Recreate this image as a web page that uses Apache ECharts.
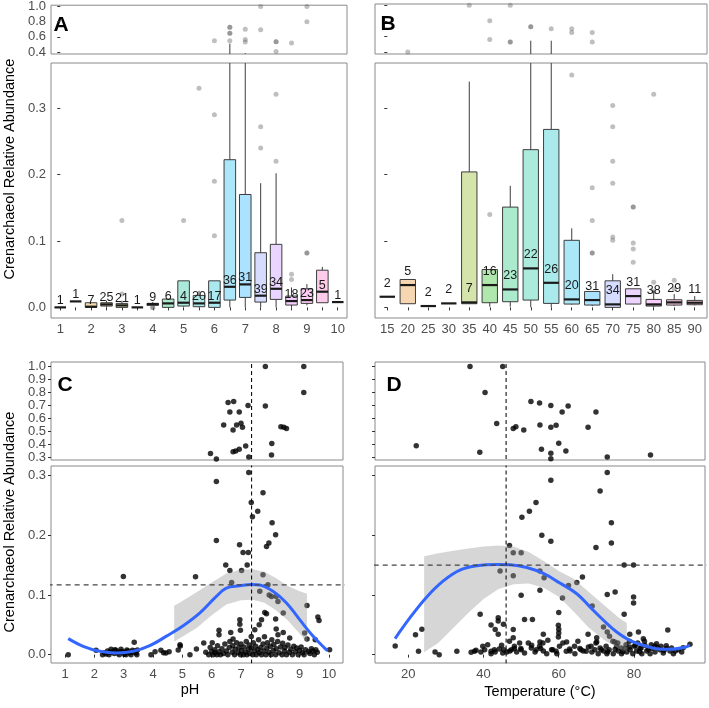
<!DOCTYPE html>
<html><head><meta charset="utf-8">
<script src="https://cdn.jsdelivr.net/npm/echarts@6/dist/echarts.min.js"></script>
<style>html,body{margin:0;padding:0;background:#fff}#c{width:709px;height:708px}</style>
</head><body><div id="c"></div>
<script>
// ---------- Panel A: pH boxplots ----------
const catsA = ['1','1.5','2','2.5','3','3.5','4','4.5','5','5.5','6','6.5','7','7.5','8','8.5','9','9.5','10'];
const nA   = [1,1,7,25,21,1,9,6,4,20,17,36,31,39,34,18,23,5,1];
const minA = [0,0.009,0,0,0,0,0.002,0,0.001,0,0,0,0,0,0,0,0.003,0.007,0.008];
const q1A  = [0,0.009,0,0.002,0,0,0.003,0,0.002,0.001,0,0.011,0.015,0.008,0.012,0.0035,0.006,0.007,0.008];
const medA = [0,0.009,0.001,0.0045,0.003,0,0.005,0.006,0.007,0.006,0.007,0.031,0.0346,0.0176,0.028,0.0095,0.011,0.0236,0.008];
const q3A  = [0,0.009,0.007,0.007,0.006,0,0.006,0.0125,0.040,0.018,0.040,0.2224,0.170,0.0823,0.0949,0.017,0.028,0.056,0.008];
const maxA = [0,0.009,0.007,0.01,0.01,0,0.008,0.0125,0.040,0.025,0.040,0.51,0.385,0.187,0.202,0.03,0.035,0.061,0.008];
const outA = [[4,0.131],[4,0.02],[6,0],[6,0],[8,0.131],[9,0.33],[10,0.108],[10,0.19],[10,0.29],[10,0.549],
  [11,0.549],[11,0.647],[11,0.647],[11,0.728],[11,0.728],[12,0.70],[12,0.566],[12,0.532],[13,0.24],[13,0.272],
  [13,1.0],[13,0.694],[14,0.22],[14,0.321],[14,0.536],[14,0.536],[14,0.408],[15,0.042],[15,0.05],[15,0.519],
  [16,0.082],[16,0.082],[16,1.0],[16,0.80]];

// ---------- Panel B: temperature boxplots ----------
const catsB = ['15','20','25','30','35','40','45','50','55','60','65','70','75','80','85','90'];
const nB   = [2,5,2,2,7,16,23,22,26,20,31,34,31,38,29,11];
const minB = [0.016,0.0055,0.002,0.006,0.005,0.001,0.001,0,0,0.004,0.002,0,0.005,0,0.002,0.003];
const q1B  = [0.016,0.0055,0.002,0.006,0.0055,0.007,0.0085,0.011,0.006,0.005,0.0035,0,0.005,0.002,0.0035,0.004];
const medB = [0.016,0.0336,0.002,0.006,0.0075,0.0336,0.027,0.0587,0.037,0.012,0.011,0.0045,0.017,0.0045,0.0075,0.007];
const q3B  = [0.016,0.042,0.002,0.006,0.204,0.057,0.151,0.2375,0.268,0.101,0.024,0.040,0.028,0.012,0.0115,0.0105];
const maxB = [0.016,0.042,0.002,0.006,0.340,0.057,0.183,0.545,0.545,0.119,0.024,0.050,0.028,0.025,0.02,0.017];
const outB = [[1,0.40],[4,1.0],[5,0.14],[5,0.80],[5,0.562],[6,1.0],[6,0.528],[6,0.528],[7,0.723],[7,0.723],
  [8,0.698],[9,0.35],[9,0.698],[9,0.651],[10,0.082],[10,0.082],[10,0.131],[10,0.18],[10,0.651],[10,0.528],
  [11,0.101],[11,0.106],[11,0.187],[11,0.22],[11,0.272],[11,0.304],[12,0.068],[12,0.088],[12,0.097],[12,0.151],
  [12,0.151],[13,0.038],[13,0.024],[13,0.321],[14,0.041],[14,0.028]];

// ---------- Panel C: pH scatter ----------
const cPoints = [
 [7.83,1.0],[9.14,1.0],[9.14,0.80],[7.83,0.697],[6.56,0.723],[6.75,0.73],[7.24,0.70],[6.62,0.651],[6.94,0.651],
 [6.41,0.551],[6.85,0.551],[7.0,0.564],[7.05,0.533],[6.73,0.513],[8.36,0.538],[8.46,0.533],[8.55,0.523],[8.05,0.408],
 [8.04,0.32],[7.16,0.39],[6.94,0.364],[6.73,0.346],[6.82,0.352],[5.96,0.331],
 [7.265,0.305],[6.16,0.29],[7.75,0.271],[7.35,0.255],[7.57,0.240],[7.39,0.231],[8.06,0.221],[8.18,0.201],[6.16,0.191],
 [6.95,0.184],[7.95,0.187],[7.87,0.181],[7.07,0.171],[7.25,0.171],
 [2.99,0.131],[5.45,0.1305],[6.48,0.150],[7.21,0.150],[6.62,0.141],[7.02,0.141],[7.75,0.134],[6.68,0.121],[7.92,0.117],
 [7.64,0.106],[7.96,0.100],[8.04,0.0975],[8.2,0.0975],[8.26,0.089],[9.25,0.0825],[7.81,0.0708],[7.87,0.0686],[8.44,0.0697],
 [9.62,0.063],[9.66,0.057],[6.96,0.0585],[6.96,0.051],[7.70,0.0585],[7.62,0.0502],[8.18,0.0597],[6.25,0.0407],[6.25,0.0334],
 [6.98,0.0407],[7.47,0.0418],[7.35,0.0306],[8.2,0.043],[8.26,0.0334],[8.44,0.0373],[6.65,0.0373],[6.73,0.0262],[8.66,0.0279],
 [9.17,0.0362],[9.25,0.0262],[9.53,0.0251],[10.02,0.0084],
 [1.11,0.0],[2.06,0.0072],[2.28,0.0],[2.4,0.001],[2.57,0.0089],[2.62,0.0045],[2.74,0.0072],[2.79,0.0028],[2.91,0.0089],
 [2.96,0.005],[3.02,0.0006],[3.11,0.0078],[3.19,0.0033],[3.3,0.0072],[3.36,0.0206],[3.42,0.0028],[3.47,0.0078],
 [2.35,0.003],[2.45,0.006],[2.5,0.0],[2.55,0.004],[2.68,0.002],[2.7,0.008],[2.85,0.0],[2.88,0.005],[3.05,0.004],
 [3.08,0.0],[3.15,0.006],[3.25,0.0],[3.28,0.004],[3.38,0.006],[3.45,0.0],
 [3.93,0.0],[4.07,0.005],[4.27,0.0072],[4.36,0.0033],[4.44,0.0028],[4.55,0.005],[4.86,0.0078],[4.93,0.0145],[4.92,0.0167],
 [5.26,0.0],[5.48,0.0095],[5.73,0.0195],
 [5.8,0.004],[5.9,0.0],[5.95,0.012],[6.0,0.005],[6.02,0.02],[6.05,0.0],[6.1,0.008],[6.12,0.003],[6.18,0.0],[6.2,0.015],
 [6.25,0.005],[6.3,0.0],[6.35,0.01],[6.4,0.002],[6.45,0.018],[6.5,0.006],[6.55,0.0],[6.6,0.012],[6.62,0.022],[6.7,0.004],
 [6.72,0.015],[6.78,0.0],[6.8,0.009],[6.85,0.02],[6.9,0.003],[6.93,0.012],[6.98,0.0],[7.0,0.018],[7.02,0.007],[7.08,0.0],
 [7.1,0.013],[7.15,0.004],[7.18,0.022],[7.2,0.0],[7.25,0.009],[7.28,0.016],[7.3,0.002],[7.35,0.011],[7.4,0.0],[7.42,0.02],
 [7.45,0.006],[7.5,0.014],[7.52,0.0],[7.58,0.008],[7.6,0.025],[7.62,0.003],[7.68,0.012],[7.7,0.0],[7.75,0.018],[7.78,0.006],
 [7.8,0.03],[7.85,0.0],[7.88,0.011],[7.9,0.02],[7.95,0.004],[8.0,0.014],[8.02,0.0],[8.05,0.025],[8.1,0.007],[8.12,0.017],
 [8.18,0.0],[8.2,0.01],[8.25,0.022],[8.3,0.003],[8.35,0.013],[8.4,0.0],[8.42,0.019],[8.48,0.006],[8.5,0.012],[8.55,0.0],
 [8.6,0.016],[8.65,0.004],[8.7,0.009],[8.75,0.0],[8.8,0.014],[8.85,0.005],[8.9,0.011],[8.95,0.0],[9.0,0.007],[9.05,0.013],
 [9.1,0.003],[9.15,0.0],[9.2,0.008],[9.3,0.005],[9.35,0.002],[9.4,0.01],[9.45,0.006],[9.5,0.0],[9.55,0.008],[9.6,0.004]
];
const cFitX = [1.11,1.62,2.19,2.76,3.33,3.89,4.46,5.03,5.6,6.16,6.5,6.96,7.36,7.64,8.09,8.55,9.0,9.46,9.85,9.95];
const cFitY = [0.0268,0.014,0.0056,0.0028,0.0056,0.015,0.031,0.0485,0.07,0.0976,0.1115,0.1154,0.1177,0.1166,0.106,0.0864,0.0586,0.0307,0.0110,0.0070];
const cBandX  = [4.72,5.0,5.5,6.0,6.5,7.0,7.4,7.8,8.2,8.6,9.0,9.25];
const cBandHi = [0.082,0.090,0.105,0.121,0.136,0.142,0.143,0.139,0.128,0.115,0.106,0.102];
const cBandLo = [0.022,0.030,0.045,0.066,0.084,0.091,0.092,0.087,0.074,0.057,0.035,0.020];
const cOptX = 7.36, cOptY = 0.117;

// ---------- Panel D: temperature scatter ----------
const dPoints = [
 [36.4,1.0],[45.1,1.0],[40.4,0.80],[52.6,0.731],[54.9,0.72],[57.9,0.70],[60.9,0.651],[62.5,0.697],[69.9,0.651],
 [43.5,0.562],[47.9,0.523],[48.6,0.538],[50.7,0.513],[55.0,0.551],[57.9,0.533],[59.3,0.549],[67.8,0.533],[22.1,0.392],
 [39.0,0.341],[55.4,0.364],[57.9,0.333],[60.0,0.41],[61.9,0.351],[57.9,0.292],[72.9,0.305],[84.4,0.32],[71.0,0.274],
 [53.95,0.255],[52.2,0.240],[50.2,0.230],[74.0,0.221],[55.5,0.200],[57.9,0.190],[74.0,0.187],[46.9,0.183],[47.9,0.1705],
 [50.0,0.1705],[69.9,0.1794],[77.4,0.150],[79.9,0.150],[44.4,0.140],[47.9,0.132],[55.0,0.140],[56.1,0.129],[55.0,0.108],
 [50.0,0.0995],[62.6,0.116],[64.8,0.121],[66.3,0.130],[61.0,0.095],[68.9,0.0816],[72.9,0.1006],[75.0,0.105],[79.9,0.0967],
 [79.9,0.0866],[77.4,0.0676],[60.0,0.0704],[39.1,0.0676],[43.9,0.062],[43.9,0.0565],[42.0,0.0497],[43.1,0.042],[43.9,0.0341],
 [45.3,0.0509],[50.9,0.0587],[53.0,0.0587],[47.9,0.042],[47.9,0.0285],[55.9,0.0341],[59.9,0.0492],[60.0,0.0425],[60.0,0.0363],
 [59.9,0.0296],[67.8,0.0341],[70.1,0.0285],[71.9,0.0464],[72.9,0.038],[74.9,0.0212],[78.9,0.0341],[81.2,0.038],[82.5,0.0268],
 [89.0,0.0414],[21.9,0.0335],[23.6,0.0425],[16.5,0.0145],[22.7,0.0056],[27.1,0.0045],[28.2,0.0],[32.9,0.0056],[38.0,0.0073],
 [39.3,0.0045],[42.0,0.0017],[43.1,0.0045],[44.8,0.0157],[45.4,0.0084],[46.2,0.0045],[47.0,0.0061],[48.2,0.0101],[48.8,0.0045],
 [49.9,0.0101],[51.9,0.0196],[52.8,0.0157],[53.7,0.0045],[55.0,0.0212],[55.2,0.0101],[55.9,0.0061],[56.8,0.0017],[58.1,0.0084],
 [59.5,0.0017],[62.1,0.0212],[63.0,0.0061],[64.3,0.0017],[65.6,0.0101],[66.5,0.0061],[67.9,0.0128],[68.8,0.0045],[69.6,0.0084],
 [70.1,0.0212],[70.5,0.0017],[71.9,0.0061],[72.8,0.0017],[73.4,0.0084],[74.5,0.0017],[75.4,0.014],[75.8,0.0061],[76.7,0.0017],
 [77.6,0.0101],[78.1,0.0045],[78.9,0.0128],[79.7,0.0017],[80.3,0.0157],[80.7,0.0061],[81.6,0.0101],[82.1,0.0017],[82.9,0.0157],
 [83.4,0.0061],[84.3,0.0017],[84.7,0.0101],[85.6,0.0045],[86.0,0.0184],[86.9,0.0084],[87.8,0.0028],[88.7,0.0101],[89.6,0.0061],
 [90.5,0.0017],[91.8,0.0084],[92.7,0.0045],[93.1,0.0117],[94.9,0.0173],
 [36.7,0.0039],[37.6,0.0056],[39.8,0.0139],[40.3,0.0084],[41.1,0.0167],[42.0,0.0056],[42.9,0.0084],[44.2,0.0095],[45.1,0.0028],
 [46.9,0.0223],[47.4,0.0084],[48.2,0.0139],[49.6,0.0195],[50.0,0.0084],[50.9,0.0028],[52.7,0.0111],[54.0,0.0084],[54.9,0.0139],
 [55.8,0.0195],[57.1,0.0240],[58.4,0.0084],[59.3,0.0056],[60.2,0.0139],[61.1,0.0195],[62.0,0.0056],[62.9,0.0095],[64.2,0.0139],
 [65.1,0.0223],[65.9,0.0084],[67.3,0.0056],[68.6,0.0139],[69.9,0.0195],[71.3,0.0084],[72.6,0.0139],[73.5,0.0307],[74.4,0.0223],
 [75.7,0.0195],[76.6,0.0111],[77.9,0.0167],[78.8,0.0223],[80.2,0.0139],[81.0,0.0195],[81.9,0.0111],[82.8,0.0223],[84.6,0.0167],
 [85.5,0.0139],[87.2,0.0139],[88.6,0.0151],[79.0,0.0080],[81.5,0.0050],[83.8,0.0090],[86.3,0.0120],[88.0,0.0070],[90.0,0.0110],
 [91.0,0.0060],[77.0,0.0050],[75.0,0.0090],[73.0,0.0050],[71.0,0.0110]
];
const dFitX = [16.46,20.45,24.9,29.3,33.7,38.2,43.5,47.0,51.5,55.9,60.3,64.8,68.3,71.9,75.4,78.9,82.5,86.0,89.6,93.1,94.9];
const dFitY = [0.027,0.062,0.0967,0.1235,0.1416,0.1488,0.151,0.1505,0.146,0.136,0.120,0.102,0.080,0.0576,0.038,0.024,0.0157,0.010,0.0089,0.0117,0.0157];
const dBandX  = [24.2,28,32,36,40,44,48,52,56,60,64,68,72,76,78.1];
const dBandHi = [0.165,0.170,0.174,0.178,0.181,0.183,0.181,0.172,0.157,0.140,0.127,0.105,0.083,0.062,0.053];
const dBandLo = [0.004,0.020,0.045,0.070,0.093,0.110,0.118,0.119,0.112,0.097,0.072,0.045,0.025,0.010,0.005];
const dOptX = 46, dOptY = 0.15;

// ---------- tick labels ----------
const topTicksAB = [0.4,0.6,0.8,1.0];
const botTicks = [0,0.1,0.2,0.3];
const topTicksCD = [0.3,0.4,0.5,0.6,0.7,0.8,0.9,1.0];
const pHTicks = [1,2,3,4,5,6,7,8,9,10];
const tempTicks = [20,40,60,80];

// ---------- helpers ----------
function hcl(h, c, l) {
  const hr = h * Math.PI / 180;
  const U = c * Math.cos(hr), V = c * Math.sin(hr);
  const Xn = 95.047, Yn = 100, Zn = 108.883;
  const den = Xn + 15 * Yn + 3 * Zn;
  const un = 4 * Xn / den, vn = 9 * Yn / den;
  const Y = l > 8 ? Yn * Math.pow((l + 16) / 116, 3) : Yn * l / 903.3;
  const u = U / (13 * l) + un, v = V / (13 * l) + vn;
  const X = 9 * Y * u / (4 * v), Z = -X / 3 - 5 * Y + 3 * Y / v;
  const x = X / 100, y = Y / 100, z = Z / 100;
  const lin = [3.2404542*x - 1.5371385*y - 0.4985314*z,
               -0.9692660*x + 1.8760108*y + 0.0415560*z,
               0.0556434*x - 0.2040259*y + 1.0572252*z];
  return lin.map(t => {
    t = t <= 0.0031308 ? 12.92 * t : 1.055 * Math.pow(t, 1/2.4) - 0.055;
    return Math.round(Math.max(0, Math.min(1, t)) * 255);
  });
}
function huePal(n, alpha) {
  const out = [];
  for (let i = 0; i < n; i++) {
    const [r, g, b] = hcl(15 + 360 * i / n, 100, 65);
    out.push(`rgba(${r},${g},${b},${alpha})`);
  }
  return out;
}
const palA = huePal(catsA.length, 0.33);
const palB = huePal(catsB.length, 0.33);

const FONT = 'Liberation Sans, Arial, sans-serif';
const tickColor = '#4d4d4d';
const borderColor = '#8a8a8a';

function boxData(mn, q1, md, q3, mx) {
  return mn.map((_, i) => [i, mn[i], q1[i], md[i], q3[i], mx[i]]);
}
function boxRender(pal) {
  return function (params, api) {
    const i = api.value(0);
    const pMin = api.coord([i, api.value(1)]);
    const pQ1 = api.coord([i, api.value(2)]);
    const pMed = api.coord([i, api.value(3)]);
    const pQ3 = api.coord([i, api.value(4)]);
    const pMax = api.coord([i, api.value(5)]);
    const hw = api.size([0.75, 0])[0] / 2;
    const cx = pMed[0];
    const st = { stroke: '#3d3d3d', lineWidth: 1 };
    const ch = [
      { type: 'line', shape: { x1: cx, y1: pQ3[1], x2: cx, y2: pMax[1] }, style: st },
      { type: 'line', shape: { x1: cx, y1: pQ1[1], x2: cx, y2: pMin[1] }, style: st },
    ];
    if (pQ1[1] - pQ3[1] > 0.5) {
      ch.push({ type: 'rect', shape: { x: cx - hw, y: pQ3[1], width: 2 * hw, height: pQ1[1] - pQ3[1] },
        style: { fill: pal[i], stroke: '#3d3d3d', lineWidth: 1 } });
    }
    ch.push({ type: 'line', shape: { x1: cx - hw, y1: pMed[1], x2: cx + hw, y2: pMed[1] },
      style: { stroke: '#1a1a1a', lineWidth: 2.2 } });
    return { type: 'group', children: ch };
  };
}
function labelRender(counts, off) {
  return function (params, api) {
    const i = api.value(0);
    const p = api.coord([i, api.value(1)]);
    return { type: 'text', x: p[0], y: p[1] - off,
      style: { text: String(counts[i]), align: 'center', verticalAlign: 'bottom',
        fontSize: 12.5, fontFamily: FONT, fill: '#1a1a1a' } };
  };
}
function bandRender(xs, lo, hi) {
  return function (params, api) {
    const pts = [];
    for (let i = 0; i < xs.length; i++) pts.push(api.coord([xs[i], hi[i]]));
    for (let i = xs.length - 1; i >= 0; i--) pts.push(api.coord([xs[i], lo[i]]));
    return { type: 'polygon', shape: { points: pts }, style: { fill: 'rgba(153,153,153,0.4)' } };
  };
}

const grids = [
  { left: 51, top: 4, width: 296, height: 50 },
  { left: 51, top: 63, width: 296, height: 255 },
  { left: 375, top: 4, width: 332, height: 50 },
  { left: 375, top: 63, width: 332, height: 255 },
  { left: 51, top: 362, width: 292, height: 98 },
  { left: 51, top: 466, width: 292, height: 197 },
  { left: 375, top: 362, width: 330, height: 98 },
  { left: 375, top: 466, width: 330, height: 197 },
].map(g => Object.assign({ show: true, borderColor: borderColor, borderWidth: 1, backgroundColor: 'transparent' }, g));

function xAx(gi, min, max, ticks, fmt) {
  const a = { type: 'value', gridIndex: gi, min, max, splitLine: { show: false }, axisLine: { show: false } };
  if (ticks) {
    a.axisTick = { show: true, length: 3, lineStyle: { color: '#333' }, customValues: ticks.all };
    a.axisLabel = { show: true, customValues: ticks.lab, formatter: fmt, color: tickColor, fontSize: 13, fontFamily: FONT, margin: 5 };
  } else {
    a.axisTick = { show: false }; a.axisLabel = { show: false };
  }
  return a;
}
function yAx(gi, min, max, ticks, showLab) {
  return { type: 'value', gridIndex: gi, min, max, splitLine: { show: false }, axisLine: { show: false },
    axisTick: { show: true, length: 3, lineStyle: { color: '#333' }, customValues: ticks },
    axisLabel: { show: showLab, customValues: ticks, formatter: v => v.toFixed(1), color: tickColor, fontSize: 13, fontFamily: FONT, margin: 5 } };
}
const idxA = catsA.map((_, i) => i), idxB = catsB.map((_, i) => i);
const xAxes = [
  xAx(0, -0.6, catsA.length - 0.4),
  xAx(1, -0.6, catsA.length - 0.4, { all: idxA, lab: idxA.filter(i => i % 2 === 0) }, v => catsA[Math.round(v)]),
  xAx(2, -0.6, catsB.length - 0.4),
  xAx(3, -0.6, catsB.length - 0.4, { all: idxB, lab: idxB }, v => catsB[Math.round(v)]),
  xAx(4, 0.523, 10.477),
  xAx(5, 0.523, 10.477, { all: pHTicks, lab: pHTicks }, v => String(v)),
  xAx(6, 11.13, 98.9),
  xAx(7, 11.13, 98.9, { all: tempTicks, lab: tempTicks }, v => String(v)),
];
const yAxes = [
  yAx(0, 0.374, 1.017, topTicksAB, true),
  yAx(1, -0.016, 0.368, botTicks, true),
  yAx(2, 0.374, 1.017, topTicksAB, false),
  yAx(3, -0.016, 0.368, botTicks, false),
  yAx(4, 0.282, 1.034, topTicksCD, true),
  yAx(5, -0.014, 0.316, botTicks, true),
  yAx(6, 0.282, 1.034, topTicksCD, false),
  yAx(7, -0.014, 0.316, botTicks, false),
];

const series = [];
const bxA = boxData(minA, q1A, medA, q3A, maxA);
const bxB = boxData(minB, q1B, medB, q3B, maxB);
[[0, bxA, palA, outA], [1, bxA, palA, outA], [2, bxB, palB, outB], [3, bxB, palB, outB]].forEach(([gi, data, pal, outs]) => {
  series.push({ type: 'scatter', xAxisIndex: gi, yAxisIndex: gi, data: outs, symbolSize: 5,
    itemStyle: { color: 'rgba(96,96,96,0.5)' }, clip: true, silent: true, z: 2 });
  series.push({ type: 'custom', xAxisIndex: gi, yAxisIndex: gi, data: data, renderItem: boxRender(pal),
    clip: true, silent: true, z: 3, dimensions: ['x','a','b','c','d','e'], encode: { x: 0, y: [1,2,3,4,5] } });
});
series.push({ type: 'custom', xAxisIndex: 1, yAxisIndex: 1, data: medA.map((m, i) => [i, m]),
  renderItem: labelRender(nA, 0), silent: true, z: 5, encode: { x: 0, y: 1 } });
series.push({ type: 'custom', xAxisIndex: 3, yAxisIndex: 3, data: medB.map((m, i) => [i, m]),
  renderItem: labelRender(nB, 7), silent: true, z: 5, encode: { x: 0, y: 1 } });

function scatterPanel(gTop, gBot, pts, fitX, fitY, bX, bLo, bHi, ox, oy, xmin, xmax) {
  [gTop, gBot].forEach(gi => {
    series.push({ type: 'scatter', xAxisIndex: gi, yAxisIndex: gi, data: pts, symbolSize: 5.5,
      itemStyle: { color: '#000' }, clip: true, silent: true, z: 2 });
    series.push({ type: 'line', xAxisIndex: gi, yAxisIndex: gi, data: [[ox, -1], [ox, 2]], symbol: 'none',
      lineStyle: { color: '#111', width: 1.1, type: [4, 3] }, clip: true, silent: true, z: 6 });
  });
  series.push({ type: 'custom', xAxisIndex: gBot, yAxisIndex: gBot, data: [[bX[0], bLo[0]]],
    renderItem: bandRender(bX, bLo, bHi), clip: true, silent: true, z: 3, encode: { x: 0, y: 1 } });
  series.push({ type: 'line', xAxisIndex: gBot, yAxisIndex: gBot, data: fitX.map((x, i) => [x, fitY[i]]),
    symbol: 'none', smooth: 0.4, lineStyle: { color: '#3366FF', width: 3 }, clip: true, silent: true, z: 4 });
  series.push({ type: 'line', xAxisIndex: gBot, yAxisIndex: gBot, data: [[xmin - 5, oy], [xmax + 5, oy]], symbol: 'none',
    lineStyle: { color: '#444', width: 1.3, type: [5, 4] }, clip: true, silent: true, z: 6 });
}
scatterPanel(4, 5, cPoints, cFitX, cFitY, cBandX, cBandLo, cBandHi, cOptX, cOptY, 0.5, 10.5);
scatterPanel(6, 7, dPoints, dFitX, dFitY, dBandX, dBandLo, dBandHi, dOptX, dOptY, 11, 99);

const yTitle = 'Crenarchaeol Relative Abundance';
const graphic = [
  { type: 'text', x: 10, y: 169, rotation: Math.PI / 2, style: { text: yTitle, align: 'center', verticalAlign: 'middle', fontSize: 14.5, fontFamily: FONT, fill: '#000' } },
  { type: 'text', x: 10, y: 522, rotation: Math.PI / 2, style: { text: yTitle, align: 'center', verticalAlign: 'middle', fontSize: 14.5, fontFamily: FONT, fill: '#000' } },
  { type: 'text', x: 190, y: 690, style: { text: 'pH', align: 'center', verticalAlign: 'middle', fontSize: 14.5, fontFamily: FONT, fill: '#000' } },
  { type: 'text', x: 540, y: 692, style: { text: 'Temperature (°C)', align: 'center', verticalAlign: 'middle', fontSize: 14.5, fontFamily: FONT, fill: '#000' } },
  { type: 'text', x: 61, y: 25, style: { text: 'A', align: 'center', verticalAlign: 'middle', fontSize: 21, fontWeight: 'bold', fontFamily: FONT, fill: '#000' } },
  { type: 'text', x: 388, y: 24, style: { text: 'B', align: 'center', verticalAlign: 'middle', fontSize: 21, fontWeight: 'bold', fontFamily: FONT, fill: '#000' } },
  { type: 'text', x: 65, y: 385, style: { text: 'C', align: 'center', verticalAlign: 'middle', fontSize: 21, fontWeight: 'bold', fontFamily: FONT, fill: '#000' } },
  { type: 'text', x: 394, y: 385, style: { text: 'D', align: 'center', verticalAlign: 'middle', fontSize: 21, fontWeight: 'bold', fontFamily: FONT, fill: '#000' } },
];

const chart = echarts.init(document.getElementById('c'), null, { renderer: 'canvas' });
chart.setOption({ animation: false, backgroundColor: '#fff', grid: grids, xAxis: xAxes, yAxis: yAxes, series, graphic });
</script></body></html>
